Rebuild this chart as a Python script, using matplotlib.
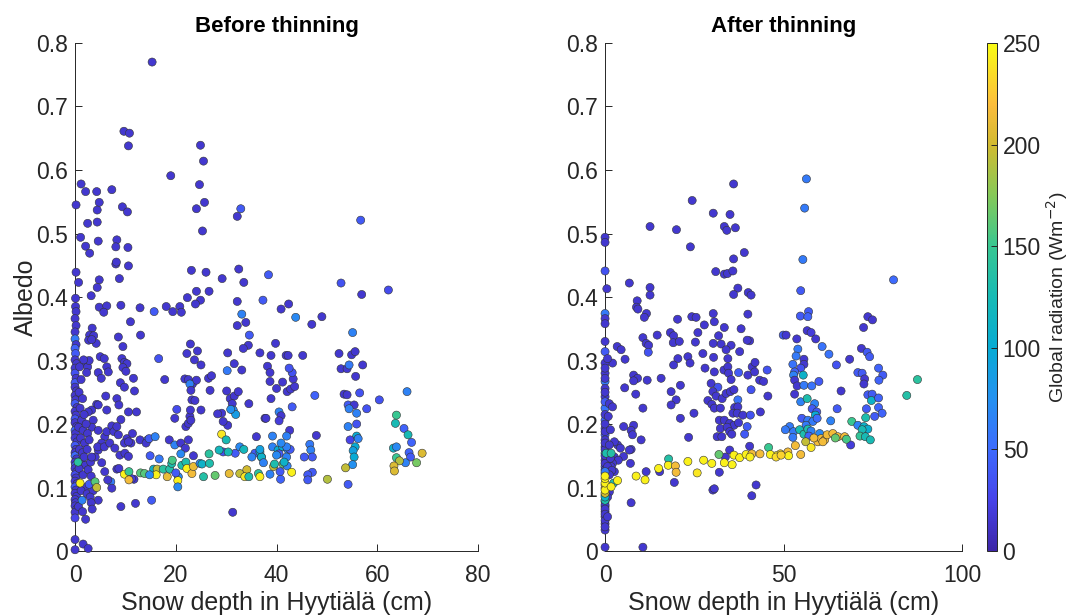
import numpy as np
import matplotlib
matplotlib.use("Agg")
import matplotlib.pyplot as plt
from matplotlib.colors import LinearSegmentedColormap, Normalize

# ---------------- data: (snow depth cm, albedo, global radiation W m-2) ----------------
before_upper = [
    (15.3,0.770,15),(9.7,0.661,15),(10.8,0.658,15),(10.6,0.638,15),(19.0,0.591,15),(24.9,0.639,15),
    (25.5,0.614,15),(24.7,0.577,15),(25.7,0.549,15),(24.1,0.539,15),(25.3,0.504,15),(1.2,0.578,15),
    (2.1,0.566,15),(4.3,0.566,15),(7.3,0.569,15),(0.2,0.545,15),(4.8,0.549,15),(4.4,0.537,15),
    (9.4,0.542,15),(10.4,0.534,15),(2.5,0.516,15),(4.4,0.518,15),(1.1,0.494,15),(2.1,0.480,15),
    (2.9,0.469,15),(4.6,0.488,15),(8.3,0.490,15),(8.1,0.479,15),(10.5,0.478,15),(8.1,0.452,15),
    (8.2,0.455,15),(10.6,0.449,15),(8.8,0.429,15),(0.2,0.439,15),(0.7,0.423,15),(4.8,0.427,15),
    (4.4,0.415,15),(3.2,0.402,15),(0.1,0.398,15),(0.1,0.385,15),(0.2,0.377,15),(4.8,0.384,15),
    (6.3,0.386,15),(5.7,0.376,15),(9.1,0.387,15),(12.9,0.383,15),(15.7,0.377,40),(18.1,0.385,15),
    (19.4,0.377,15),(20.8,0.385,15),(21.1,0.376,15),(22.3,0.399,15),(23.1,0.442,15),(24.1,0.409,15),
    (24.9,0.395,15),(23.9,0.389,15),(26.0,0.439,15),(26.6,0.409,15),(29.2,0.429,15),(32.2,0.527,15),
    (32.9,0.539,40),(32.5,0.444,15),(33.5,0.423,15),(32.2,0.393,15),(33.1,0.373,65),(37.3,0.395,40),
    (38.4,0.435,40),(40.9,0.381,15),(42.4,0.389,15),(43.8,0.368,70),(49.0,0.369,15),(52.8,0.422,35),
    (56.9,0.404,15),(56.7,0.521,40),(62.2,0.411,30),
]

before_mid = [
    (11.0,0.361,15),(3.4,0.351,15),(2.9,0.340,15),(3.7,0.339,15),(2.7,0.332,15),(4.2,0.327,15),
    (3.3,0.333,15),(8.6,0.337,15),(13.0,0.340,15),(9.5,0.322,15),(32.2,0.355,15),(33.9,0.360,15),
    (34.6,0.340,40),(22.9,0.326,15),(22.2,0.311,15),(24.3,0.315,15),(23.7,0.301,15),(25.0,0.293,15),
    (30.3,0.312,15),(31.6,0.295,15),(33.1,0.285,15),(34.4,0.324,15),(33.4,0.319,15),(36.7,0.312,15),
    (30.2,0.284,60),(16.6,0.303,35),(5.0,0.306,15),(5.8,0.303,15),(2.0,0.296,15),(2.5,0.290,15),
    (2.3,0.281,15),(2.8,0.300,15),(1.7,0.301,15),(4.6,0.281,15),(5.2,0.272,15),(6.3,0.290,15),
    (6.6,0.282,15),(9.3,0.303,15),(9.8,0.297,15),(10.3,0.295,15),(9.5,0.289,15),(10.1,0.283,15),
    (11.6,0.272,15),(9.0,0.265,15),(9.8,0.258,15),(11.8,0.252,15),(17.8,0.270,15),(21.8,0.271,15),
    (22.5,0.270,15),(23.3,0.263,15),(24.1,0.269,15),(22.8,0.263,65),(23.0,0.253,15),(23.2,0.238,15),
    (23.8,0.237,15),(26.5,0.272,15),(27.1,0.276,15),(26.8,0.253,15),(30.1,0.252,15),(30.8,0.240,15),
    (31.6,0.244,15),(32.4,0.251,15),(31.2,0.232,15),(31.4,0.222,70),(31.9,0.215,85),(30.9,0.223,75),
    (34.5,0.232,15),(37.7,0.209,15),(29.1,0.217,15),(28.3,0.216,15),(30.3,0.198,15),(29.4,0.204,15),
    (20.2,0.223,30),(19.8,0.209,15),(22.8,0.212,15),(22.9,0.222,15),(22.0,0.196,15),(22.5,0.201,15),
    (23.0,0.206,15),(25.0,0.222,15),(10.6,0.219,15),(12.2,0.219,15),(8.3,0.240,15),(8.7,0.230,15),
    (9.1,0.207,15),(6.1,0.244,15),(4.3,0.231,15),(6.3,0.222,15),(4.6,0.230,15),(3.3,0.222,15),
    (2.6,0.219,15),(3.6,0.206,15),(3.3,0.195,15),
    (47.0,0.357,15),(55.1,0.344,65),(39.8,0.327,15),(38.9,0.308,15),(41.9,0.308,15),(42.3,0.308,15),
    (45.2,0.308,15),(38.2,0.291,15),(38.7,0.281,15),(38.7,0.267,15),(40.0,0.256,15),(41.2,0.266,15),
    (42.1,0.251,15),(42.8,0.255,15),(43.6,0.259,15),(43.3,0.271,15),(43.1,0.281,35),(42.5,0.288,35),
    (38.9,0.240,15),(52.4,0.311,15),(54.9,0.309,15),(55.6,0.314,15),(52.8,0.287,15),(54.0,0.287,15),
    (54.4,0.293,60),(57.1,0.293,15),(55.7,0.275,15),(47.6,0.245,45),(43.1,0.227,40),(53.4,0.247,15),
    (54.0,0.246,15),(56.5,0.249,35),(60.4,0.238,35),(65.9,0.251,65),(54.2,0.230,40),(55.4,0.230,15),
    (54.4,0.224,65),(55.9,0.217,65),(57.9,0.224,35),(40.5,0.219,65),(40.9,0.213,15),(40.5,0.205,20),
    (37.9,0.209,15),
]

before_band = [
    (4.6,0.190,15),(5.9,0.180,15),(6.3,0.188,15),(7.3,0.197,15),(7.7,0.188,15),(8.3,0.196,15),
    (8.6,0.183,15),(10.3,0.177,15),(9.8,0.170,15),(11.1,0.170,15),(11.4,0.185,15),(10.6,0.172,15),
    (12.9,0.175,15),(14.4,0.175,45),(14.1,0.170,15),(14.7,0.177,40),(15.9,0.180,65),(18.7,0.175,15),
    (19.8,0.167,65),(21.0,0.170,15),(22.5,0.175,15),(21.9,0.162,15),(5.3,0.170,15),(4.6,0.159,15),
    (4.0,0.148,15),(3.3,0.148,15),(4.5,0.164,15),(5.8,0.164,15),(6.9,0.170,15),(7.9,0.162,15),
    (8.9,0.151,15),(9.9,0.154,15),(10.6,0.149,15),(14.9,0.150,40),(16.7,0.145,60),(5.3,0.139,15),
    (5.9,0.125,15),(6.5,0.112,15),(7.3,0.099,15),(8.3,0.129,15),(8.7,0.130,15),(11.7,0.113,15),
    (11.2,0.114,20),(4.6,0.080,15),(3.0,0.085,15),(3.2,0.076,15),(3.4,0.066,15),(2.1,0.050,15),
    (9.1,0.070,15),(12.0,0.075,15),(15.2,0.080,40),(31.3,0.061,15),(23.5,0.150,15),(29.4,0.156,35),
    (31.8,0.154,40),(35.7,0.154,40),(36.0,0.180,15),(37.0,0.148,65),
    (9.8,0.121,245),(10.7,0.125,150),(10.7,0.112,215),(13.0,0.123,160),(13.8,0.122,160),(15.6,0.129,110),
    (16.3,0.129,195),(16.1,0.120,245),(14.8,0.120,70),(17.5,0.129,140),(18.3,0.117,210),(18.8,0.129,135),
    (19.2,0.138,130),(19.3,0.143,155),(20.5,0.117,70),(20.4,0.111,245),(20.4,0.101,70),(20.0,0.123,40),
    (21.2,0.135,130),(21.0,0.153,70),(22.0,0.140,130),(22.2,0.130,245),(23.2,0.122,215),(23.5,0.133,210),
    (24.8,0.138,70),(25.2,0.137,110),(26.6,0.153,140),(26.7,0.138,130),(25.5,0.117,135),(27.8,0.119,165),
    (30.6,0.122,210),(32.7,0.122,195),(34.1,0.128,200),(33.7,0.117,240),(34.5,0.117,130),(36.4,0.122,140),
    (29.1,0.184,240),(30.0,0.175,125),(28.6,0.159,120),(30.4,0.156,125),(32.7,0.164,70),(33.5,0.160,120),
    (35.1,0.148,65),(36.7,0.156,100),
    (42.6,0.190,15),(39.2,0.181,65),(42.0,0.181,65),(47.9,0.182,15),(54.2,0.196,65),(55.9,0.200,35),
    (55.9,0.181,100),(54.6,0.175,25),(56.2,0.177,65),(55.6,0.164,100),(55.2,0.158,90),(55.4,0.148,100),
    (55.1,0.136,75),(53.7,0.131,195),(54.2,0.105,40),(63.8,0.214,150),(63.6,0.201,125),(65.3,0.193,45),
    (66.1,0.183,125),(66.8,0.171,45),(63.2,0.162,110),(63.8,0.164,70),(66.3,0.155,45),(66.6,0.148,40),
    (65.6,0.139,65),(67.8,0.139,170),(68.9,0.154,205),(63.8,0.147,150),(64.4,0.142,190),(63.3,0.134,205),
    (63.4,0.126,205),(46.6,0.168,60),(46.8,0.159,65),(45.5,0.148,40),(47.1,0.148,40),(47.1,0.124,40),
    (46.2,0.120,40),(46.2,0.112,40),(50.1,0.113,190),(39.4,0.133,195),(39.6,0.137,130),(41.3,0.137,165),
    (42.1,0.134,65),(43.0,0.124,245),(40.7,0.125,40),(38.7,0.121,65),(40.8,0.113,45),(36.7,0.117,245),
    (37.0,0.148,110),(39.2,0.164,65),(40.3,0.159,100),(41.2,0.164,100),(42.2,0.160,70),(42.7,0.160,40),
    (40.5,0.153,40),(42.0,0.164,65),(42.0,0.148,65),(40.0,0.151,70),(37.4,0.139,65),(36.7,0.160,90),
    (41.5,0.140,110),(40.9,0.170,70),
]

before_column = [
    (0.0,0.366,15),(0.2,0.355,15),(0.0,0.345,15),(0.0,0.334,60),(0.2,0.325,15),(0.0,0.319,45),
    (0.1,0.311,40),(0.0,0.301,15),(0.3,0.295,15),(0.0,0.288,15),(0.0,0.280,35),(0.2,0.272,15),
    (0.0,0.265,40),(0.0,0.258,15),(0.3,0.252,15),(0.0,0.245,15),(0.1,0.238,15),(0.0,0.232,40),
    (0.4,0.226,15),(0.0,0.220,15),(0.2,0.214,15),(0.0,0.208,35),(0.0,0.202,15),(0.3,0.196,15),
    (0.0,0.190,45),(0.1,0.185,15),(0.0,0.178,15),(0.4,0.172,15),(0.0,0.166,40),(0.2,0.160,15),
    (0.0,0.155,15),(0.0,0.150,50),(0.3,0.145,15),(0.0,0.140,15),(0.1,0.135,40),(0.0,0.130,15),
    (0.3,0.125,15),(0.0,0.120,30),(0.2,0.115,15),(0.0,0.110,15),(0.4,0.106,15),(0.0,0.101,40),
    (0.2,0.096,15),(0.0,0.091,15),(0.3,0.086,15),(0.0,0.081,15),(0.1,0.076,15),(0.0,0.071,15),
    (0.3,0.066,15),(0.0,0.061,15),(0.0,0.052,25),(0.0,0.018,15),(0.0,0.002,15),(1.6,0.011,15),
    (2.6,0.004,15),
    (0.9,0.290,15),(1.2,0.270,15),(0.8,0.250,15),(1.5,0.240,15),(1.0,0.225,15),(1.3,0.206,15),
    (1.8,0.215,15),(0.7,0.195,15),(1.6,0.190,15),(2.2,0.200,15),(2.5,0.185,15),(1.1,0.178,15),
    (1.9,0.170,15),(2.8,0.175,15),(0.9,0.160,15),(1.5,0.155,15),(2.4,0.160,15),(1.2,0.142,15),
    (2.0,0.135,15),(0.8,0.130,15),(1.6,0.120,15),(2.6,0.128,15),(3.2,0.118,15),(2.0,0.100,15),
    (1.2,0.095,15),(2.4,0.090,15),(3.6,0.095,15),(0.7,0.070,15),(1.5,0.062,15),(2.8,0.105,40),
    (1.8,0.148,15),(3.1,0.140,15),(0.6,0.140,140),(1.4,0.080,65),(7.1,0.109,60),(3.97,0.109,160),
    (4.3,0.100,195),(1.0,0.107,245),
]

after_upper = [
    (56.4,0.586,60),(55.9,0.540,60),(55.4,0.459,60),(54.8,0.410,40),(57.0,0.377,40),(54.7,0.370,40),
    (56.8,0.369,45),(36.0,0.578,15),(24.4,0.552,15),(30.3,0.532,15),(35.0,0.530,15),(12.6,0.511,15),
    (20.0,0.506,15),(33.4,0.511,15),(34.1,0.505,15),(36.5,0.509,15),(23.9,0.479,15),(39.0,0.470,15),
    (36.0,0.460,15),(31.0,0.440,15),(33.4,0.436,15),(34.3,0.437,15),(35.8,0.441,15),(6.8,0.422,15),
    (12.6,0.415,15),(12.6,0.403,15),(9.0,0.394,15),(8.8,0.384,15),(9.2,0.381,15),(11.6,0.374,15),
    (11.0,0.368,15),(37.2,0.414,15),(36.0,0.404,15),(40.1,0.407,15),(40.9,0.403,15),(30.3,0.374,15),
    (40.0,0.373,15),(20.3,0.365,15),(24.3,0.369,15),(25.5,0.368,15),(73.6,0.369,15),(74.9,0.364,15),
    (80.8,0.427,50),(0.0,0.494,15),(0.0,0.486,15),(0.0,0.441,35),(0.5,0.413,15),(0.0,0.374,60),
    (0.0,0.366,15),
]

after_mid = [
    (30.6,0.361,15),(27.8,0.356,15),(33.4,0.352,15),(38.1,0.350,15),(49.9,0.340,40),(14.6,0.340,15),
    (10.6,0.336,15),(11.5,0.327,15),(12.2,0.324,15),(12.1,0.313,35),(3.4,0.322,15),(4.5,0.317,15),
    (5.6,0.302,15),(18.3,0.344,15),(19.2,0.339,15),(19.1,0.328,15),(20.8,0.330,15),(26.0,0.344,15),
    (25.3,0.329,15),(30.3,0.327,15),(31.8,0.339,15),(32.5,0.326,15),(35.3,0.324,15),(33.9,0.317,15),
    (40.5,0.331,15),(39.8,0.332,15),(27.4,0.311,15),(23.2,0.306,15),(23.8,0.296,15),(20.4,0.303,15),
    (19.2,0.293,15),(30.4,0.305,15),(34.4,0.303,15),(37.7,0.314,15),(2.1,0.296,15),(8.0,0.277,15),
    (9.1,0.272,15),(8.0,0.268,15),(11.8,0.269,15),(15.7,0.272,15),(5.5,0.257,15),(8.6,0.247,15),
    (10.6,0.225,15),(28.0,0.288,15),(30.6,0.282,15),(33.3,0.285,15),(34.4,0.290,15),(34.6,0.280,15),
    (35.3,0.270,15),(37.4,0.281,40),(40.0,0.277,15),(41.2,0.290,15),(42.0,0.297,15),(41.9,0.282,15),
    (43.3,0.269,15),(45.4,0.285,35),(44.4,0.267,15),(45.6,0.244,15),(21.1,0.261,15),(18.5,0.251,15),
    (19.9,0.238,15),(18.5,0.230,15),(21.1,0.209,15),(24.9,0.217,15),(29.7,0.264,15),(31.6,0.258,35),
    (30.2,0.251,15),(31.1,0.244,15),(32.8,0.240,15),(33.9,0.248,15),(35.1,0.251,15),(36.1,0.254,15),
    (28.8,0.237,15),(29.9,0.231,15),(30.6,0.225,15),(32.3,0.225,15),(37.2,0.238,55),(36.3,0.226,15),
    (37.2,0.227,15),(35.8,0.217,15),(37.0,0.217,15),(38.6,0.214,15),(40.7,0.214,35),(40.9,0.254,35),
    (43.5,0.219,15),(32.0,0.206,15),(33.4,0.206,15),(34.9,0.201,15),(36.1,0.198,15),(37.4,0.202,15),
    (32.3,0.193,15),(34.2,0.195,15),(34.9,0.188,15),(35.5,0.184,15),(31.4,0.180,15),(32.7,0.180,15),
    (39.8,0.196,40),(39.1,0.184,40),(40.5,0.165,15),(34.9,0.159,15),(33.7,0.148,15),(8.0,0.198,15),
    (7.3,0.190,15),(7.7,0.183,15),(10.1,0.175,15),(5.2,0.196,15),(23.4,0.179,15),(7.3,0.160,15),
    (6.8,0.159,15),(7.1,0.138,15),(3.5,0.167,15),(4.3,0.162,15),(2.6,0.148,15),(5.2,0.149,15),
    (3.7,0.143,15),(2.1,0.138,15),(1.7,0.133,15),(2.6,0.125,15),(15.3,0.125,15),(11.5,0.125,15),
    (32.0,0.124,15),(19.4,0.108,15),(30.2,0.096,15),(30.6,0.098,15),(42.3,0.104,15),(41.1,0.087,15),
    (7.3,0.076,15),(10.6,0.006,15),(0.0,0.006,15),
    (72.4,0.352,15),(50.7,0.340,15),(53.7,0.334,15),(56.6,0.347,15),(57.7,0.344,20),(59.0,0.334,15),
    (54.0,0.318,60),(53.5,0.307,60),(55.7,0.302,15),(52.6,0.294,55),(55.7,0.294,15),(54.8,0.288,35),
    (53.1,0.282,45),(52.8,0.277,65),(55.5,0.277,110),(53.1,0.269,15),(53.8,0.260,15),(55.7,0.261,60),
    (57.9,0.260,55),(59.9,0.267,40),(60.8,0.322,55),(62.7,0.310,55),(64.8,0.293,35),(68.5,0.302,15),
    (71.8,0.319,15),(73.4,0.313,40),(74.1,0.306,40),(70.8,0.281,40),(72.0,0.280,40),(72.7,0.271,15),
    (72.5,0.263,15),(76.6,0.288,45),(77.8,0.277,40),(76.7,0.269,45),(66.1,0.252,15),(53.1,0.247,15),
]

after_band = [
    (54.8,0.235,65),(56.6,0.240,130),(58.7,0.232,65),(58.0,0.224,40),(59.3,0.219,40),(65.0,0.224,40),
    (58.9,0.214,100),(55.1,0.209,40),(56.8,0.206,60),(58.2,0.204,60),(59.4,0.209,50),(56.3,0.198,60),
    (63.2,0.205,65),(73.6,0.246,40),(74.8,0.247,40),(74.6,0.237,110),(76.6,0.241,45),(73.2,0.224,40),
    (76.6,0.226,45),(77.6,0.217,45),(75.5,0.212,40),(73.0,0.210,130),(69.1,0.204,150),(70.8,0.198,65),
    (72.5,0.196,110),(73.6,0.192,105),(72.0,0.191,125),(71.4,0.181,145),(72.9,0.180,125),(74.3,0.175,125),
    (68.8,0.167,20),(84.5,0.245,135),(87.5,0.270,140),(51.7,0.196,60),(50.5,0.191,60),(52.8,0.188,60),
    (52.6,0.179,60),(54.5,0.191,125),(55.7,0.184,130),(56.8,0.192,130),(57.7,0.189,65),(57.1,0.181,45),
    (56.2,0.172,195),(57.7,0.163,240),(53.3,0.166,215),(51.2,0.156,215),(51.4,0.150,245),(49.1,0.153,235),
    (47.9,0.150,245),(54.8,0.152,215),(60.1,0.185,70),(59.6,0.172,215),(60.5,0.177,215),(61.5,0.175,215),
    (62.2,0.183,215),(63.8,0.185,215),(65.2,0.180,215),(67.1,0.180,215),(64.5,0.178,165),(67.6,0.176,155),
    (58.5,0.178,215),(61.0,0.172,215),
    (17.8,0.145,135),(17.7,0.135,245),(15.0,0.130,245),(19.7,0.134,215),(19.9,0.124,215),(8.7,0.118,245),
    (11.2,0.112,245),(3.5,0.111,245),(23.2,0.141,245),(25.8,0.123,240),(27.6,0.143,245),(29.9,0.138,245),
    (31.9,0.152,165),(33.4,0.139,245),(35.6,0.136,245),(36.1,0.151,245),(37.7,0.147,245),(39.5,0.152,245),
    (41.1,0.153,215),(40.6,0.148,245),(43.4,0.153,215),(45.8,0.163,150),(46.3,0.152,245),(47.9,0.148,235),
    (49.3,0.151,230),(0.3,0.154,130),(1.7,0.154,135),
]

after_column = [
    (0.0,0.358,15),(0.0,0.330,15),(0.0,0.314,40),(0.0,0.296,15),(0.0,0.280,15),(0.0,0.267,60),
    (0.0,0.256,15),(0.0,0.243,15),(0.0,0.225,55),(0.0,0.206,45),(0.0,0.193,15),(0.0,0.183,40),
    (0.0,0.175,15),(0.0,0.164,15),(0.0,0.154,130),(0.0,0.143,15),(0.0,0.133,40),(0.0,0.122,15),
    (0.0,0.150,15),(0.0,0.138,15),(0.0,0.128,15),(0.0,0.160,15),(0.0,0.170,15),(0.0,0.188,15),
    (0.0,0.200,15),(0.0,0.215,15),(0.0,0.235,40),(0.0,0.250,15),(0.0,0.272,15),(0.0,0.288,15),
    (0.0,0.078,15),(0.0,0.070,15),(0.0,0.062,15),(0.0,0.054,15),(0.0,0.043,15),(0.0,0.033,15),
    (0.0,0.073,15),(0.0,0.066,15),(0.0,0.058,15),(0.0,0.048,15),(0.0,0.038,15),
    (0.7,0.303,15),(1.2,0.232,15),(2.1,0.227,15),(0.9,0.212,15),(1.5,0.191,15),(2.6,0.172,15),
    (1.2,0.167,15),(1.5,0.146,15),(0.7,0.133,15),(1.9,0.127,15),(1.2,0.120,15),(1.2,0.093,15),
    (0.7,0.085,15),(0.7,0.054,15),(2.4,0.107,130),(0.0,0.125,60),(0.0,0.088,120),(0.0,0.080,130),
    (0.0,0.085,110),(0.0,0.091,200),(0.0,0.099,235),(0.0,0.104,235),(0.0,0.096,245),(0.0,0.107,245),
    (0.0,0.114,245),(0.0,0.118,245),(1.7,0.101,245),
]

xticks_before = [0, 20, 40, 60, 80]
xticks_after = [0, 50, 100]
yticks = [0, 0.1, 0.2, 0.3, 0.4, 0.5, 0.6, 0.7, 0.8]
ytick_labels = ["0", "0.1", "0.2", "0.3", "0.4", "0.5", "0.6", "0.7", "0.8"]
cbar_ticks = [0, 50, 100, 150, 200, 250]

# ---------------- parula-like colormap ----------------
parula_anchors = [
    (0.00, (0.2422, 0.1504, 0.6603)),
    (0.10, (0.2780, 0.2650, 0.9150)),
    (0.20, (0.2420, 0.4200, 0.9950)),
    (0.30, (0.1400, 0.5700, 0.9400)),
    (0.40, (0.0300, 0.6700, 0.8300)),
    (0.50, (0.0900, 0.7300, 0.7100)),
    (0.60, (0.2200, 0.7800, 0.5700)),
    (0.70, (0.5200, 0.7900, 0.3500)),
    (0.80, (0.8200, 0.7300, 0.1900)),
    (0.88, (0.9900, 0.7400, 0.2400)),
    (1.00, (0.9769, 0.9839, 0.0805)),
]
parula = LinearSegmentedColormap.from_list("parula", parula_anchors)
norm = Normalize(vmin=0, vmax=250)

plt.rcParams['font.family'] = ['Liberation Sans', 'DejaVu Sans']
axcol = (0.15, 0.15, 0.15)

fig = plt.figure(figsize=(10.69, 6.16), dpi=100)
ax1 = fig.add_axes([0.0702, 0.1055, 0.377, 0.8247])
ax2 = fig.add_axes([0.566, 0.1055, 0.334, 0.8247])
cax = fig.add_axes([0.9235, 0.1055, 0.0092, 0.8247])


def draw(ax, groups, xmax, xticks, title):
    pts = [p for g in groups for p in g]
    d = np.array([p[0] for p in pts])
    a = np.array([p[1] for p in pts])
    r = np.array([p[2] for p in pts])
    sc = ax.scatter(d, a, c=r, cmap=parula, norm=norm, s=34,
                    edgecolors=(0.2, 0.2, 0.2), linewidths=0.4, zorder=3, clip_on=False)
    ax.set_xlim(0, xmax)
    ax.set_ylim(0, 0.8)
    ax.set_xticks(xticks)
    ax.set_xticklabels([str(t) for t in xticks])
    ax.set_yticks(yticks)
    ax.set_yticklabels(ytick_labels)
    for s in ['top', 'right']:
        ax.spines[s].set_visible(False)
    for s in ['left', 'bottom']:
        ax.spines[s].set_color(axcol)
        ax.spines[s].set_linewidth(0.7)
    ax.tick_params(direction='in', length=5, width=0.7, colors=axcol, labelsize=16.5)
    ax.tick_params(axis='x', pad=9)
    ax.tick_params(axis='y', pad=5)
    ax.set_title(title, fontsize=16, fontweight='bold', pad=8)
    ax.set_xlabel("Snow depth in Hyytiälä (cm)", fontsize=18, color=axcol, labelpad=3)
    return sc


draw(ax1, [before_upper, before_mid, before_column, before_band], 80, xticks_before, "Before thinning")
sc = draw(ax2, [after_upper, after_mid, after_column, after_band], 100, xticks_after, "After thinning")
ax1.set_ylabel("Albedo", fontsize=18, color=axcol, labelpad=-1)

cb = fig.colorbar(sc, cax=cax)
cb.set_ticks(cbar_ticks)
cb.outline.set_linewidth(0.7)
cb.outline.set_edgecolor(axcol)
cb.ax.tick_params(direction='in', length=4, width=0.7, colors=axcol, labelsize=16.5, pad=4)
cb.set_label("Global radiation (Wm$^{-2}$)", fontsize=14, color=axcol, labelpad=2)

fig.savefig("out.png", dpi=100)
